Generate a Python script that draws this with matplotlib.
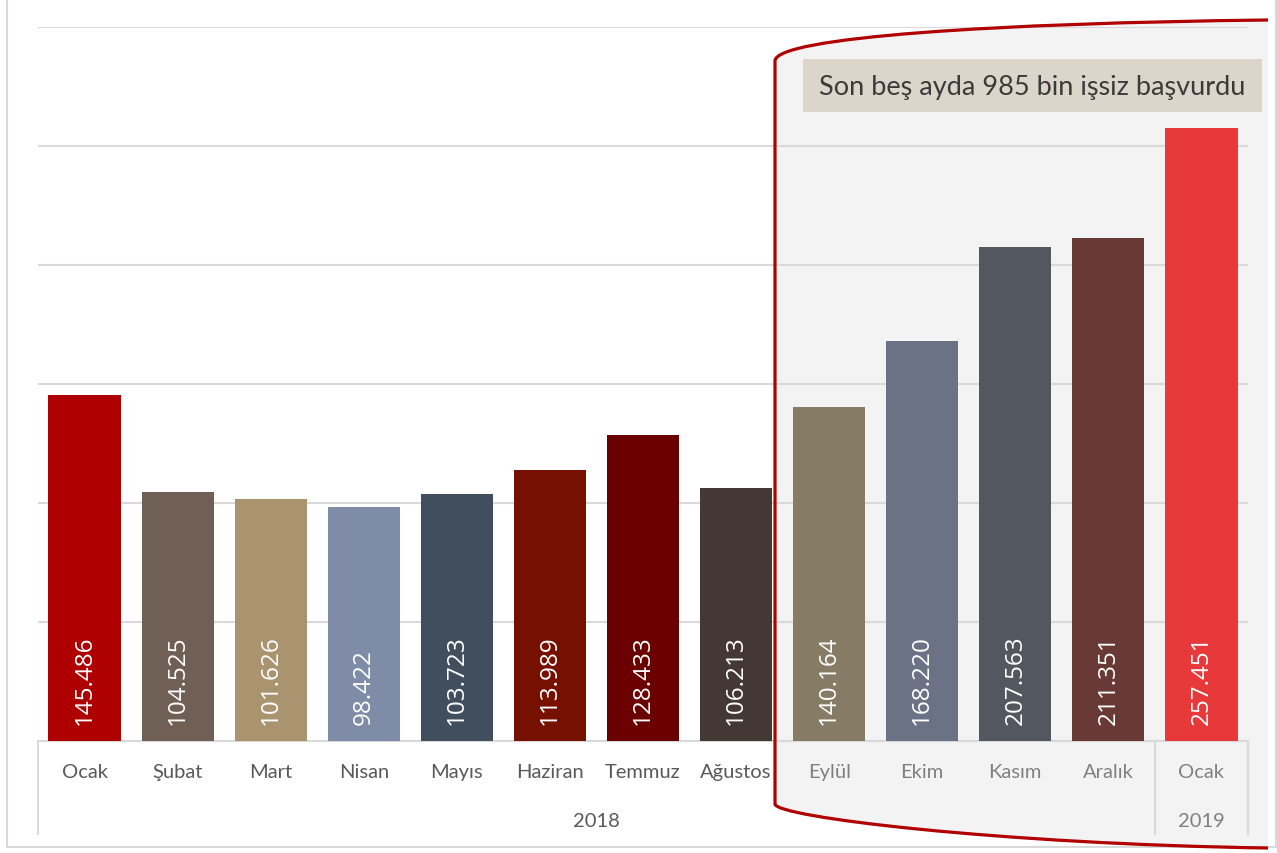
import matplotlib
matplotlib.use("Agg")
import matplotlib.pyplot as plt
from matplotlib.path import Path
from matplotlib.patches import PathPatch, Rectangle
from matplotlib.lines import Line2D

plt.rcParams['font.family'] = ['Lato', 'DejaVu Sans']

# data
months = ['Ocak', 'Şubat', 'Mart', 'Nisan', 'Mayıs', 'Haziran', 'Temmuz',
          'Ağustos', 'Eylül', 'Ekim', 'Kasım', 'Aralık', 'Ocak']
values = [145486, 104525, 101626, 98422, 103723, 113989, 128433,
          106213, 140164, 168220, 207563, 211351, 257451]
years = ['2018', '2019']
year_span = [(0, 11), (12, 12)]
colors = ['#AE0000', '#705F55', '#AA9470', '#7F8CA8', '#414E5E', '#761000',
          '#6A0000', '#433833', '#867B65', '#6B7285', '#53575F', '#683935',
          '#E8393A']
note = 'Son beş ayda 985 bin işsiz başvurdu'

W, H = 1277, 854
fig = plt.figure(figsize=(W / 100, H / 100), dpi=100)
fig.patch.set_facecolor('white')

def px(x, y):
    return (x / W, 1 - y / H)

# shaded bracket region + red outline (figure pixel coords)
verts = [px(775, 62), px(775, 38), px(1000, 24), px(1268, 21),
         px(1268, 849),
         px(1000, 845), px(775, 818), px(775, 805),
         px(775, 62)]
codes = [Path.MOVETO, Path.CURVE4, Path.CURVE4, Path.CURVE4,
         Path.LINETO,
         Path.CURVE4, Path.CURVE4, Path.CURVE4,
         Path.CLOSEPOLY]
fill = PathPatch(Path(verts, codes), transform=fig.transFigure,
                 facecolor='#F3F3F3', edgecolor='none', zorder=-1)
fig.patches.append(fill)

outline = [px(1268, 21), px(1000, 24), px(775, 38), px(775, 62),
           px(775, 805), px(775, 818), px(1000, 845), px(1268, 849)]
ocodes = [Path.MOVETO, Path.CURVE4, Path.CURVE4, Path.CURVE4,
          Path.LINETO, Path.CURVE4, Path.CURVE4, Path.CURVE4]
red = PathPatch(Path(outline, ocodes), transform=fig.transFigure,
                facecolor='none', edgecolor='#B00000', lw=2.3, zorder=5)
fig.patches.append(red)

# outer chart frame
for xs, ys in [((7, 7), (0, 848)), ((7, 1276), (848, 848)), ((1276, 1276), (0, 848))]:
    fig.lines.append(Line2D([x / W for x in xs], [1 - y / H for y in ys],
                            transform=fig.transFigure, color='#D9D9D9', lw=1.5))

ax = fig.add_axes([38 / W, 1 - 742 / H, (1248 - 38) / W, (742 - 28) / H])
ax.set_facecolor('none')

x = list(range(len(values)))
ax.bar(x, values, width=0.775, color=colors, zorder=3)
ax.set_xlim(-0.5, len(values) - 0.5)
ax.set_ylim(0, 300000)
ax.set_yticks(range(0, 300001, 50000))
ax.yaxis.grid(True, color='#D9D9D9', lw=1.5, zorder=0)
ax.tick_params(left=False, bottom=False, labelleft=False, labelbottom=False)
for s in ['top', 'right', 'left']:
    ax.spines[s].set_visible(False)
ax.spines['bottom'].set_color('#D9D9D9')
ax.spines['bottom'].set_linewidth(1.5)

for i, v in enumerate(values):
    ax.annotate(f'{v:,}'.replace(',', '.'), xy=(i, 0), xytext=(0, 12),
                textcoords='offset points', rotation=90, ha='center',
                va='bottom', color='white', fontsize=17.5,
                family=['Open Sans', 'DejaVu Sans'], zorder=4)

# category axis: months, years and separators
for i, m in enumerate(months):
    c = '#595959' if i < 8 else '#808080'
    ax.text(i, -0.0434, m, transform=ax.get_xaxis_transform(), ha='center',
            va='center', fontsize=14.5, color=c)
for (a, b), yr in zip(year_span, years):
    c = '#595959' if yr == '2018' else '#808080'
    ax.text((a + b) / 2, -0.112, yr, transform=ax.get_xaxis_transform(),
            ha='center', va='center', fontsize=14.5, color=c)
for xs in [-0.5, 11.5, 12.5]:
    ax.plot([xs, xs], [0, -0.13], transform=ax.get_xaxis_transform(),
            color='#D9D9D9', lw=1.5, clip_on=False)

# note box
fig.patches.append(Rectangle(px(803, 113), 459 / W, 53 / H,
                             transform=fig.transFigure, facecolor='#DCD5CA',
                             edgecolor='none', zorder=6))
fig.text(1032 / W, 1 - 87 / H, note, ha='center', va='center',
         fontsize=19.5, color='#3B3B3B', zorder=7)

fig.savefig('out.png', dpi=100)
